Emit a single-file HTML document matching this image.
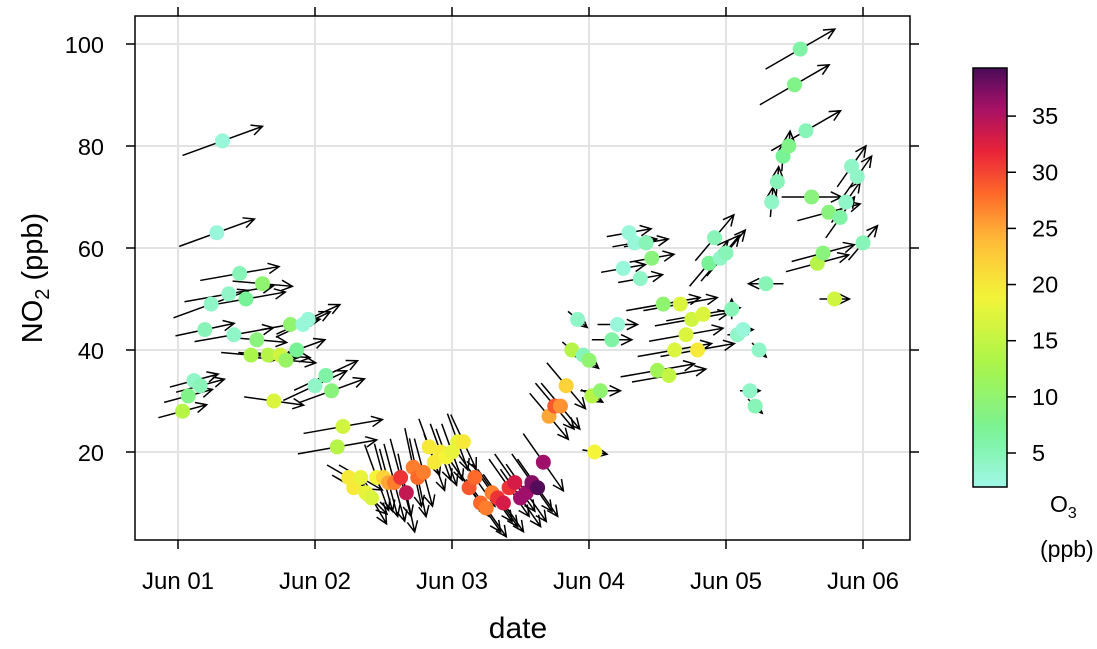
<!DOCTYPE html>
<html><head><meta charset="utf-8"><style>
body{margin:0;background:#fff}
svg text{font-family:"Liberation Sans",sans-serif;fill:#000}
</style></head><body>
<svg id="c" width="1097" height="644" viewBox="0 0 1097 644"></svg>
<script>
// data: hours since Jun 01 00:00, NO2, O3, wind speed, arrow direction (deg on screen)
const hours=[0.8,1.8,2.8,3.9,4.7,5.8,6.8,7.8,8.9,9.8,10.8,11.9,12.8,13.8,14.8,15.8,16.8,17.9,18.9,19.7,20.8,21.9,22.8,24,25.9,26.9,27.9,28.9,
29.9,30.8,32,32.9,33.9,34.8,36,36.9,37.9,39,40,41.2,42,43,44,44.9,46,47,48,49,50,
51,52,53,54,55,56,57,58,59,60,61,62,63,64,65,66,67,68,
69,70,71,72,72.5,73,74,76,77,78,79,80,81,82,83,84,85,86,87,88,89,90,91,92,93,94,95,96,97,98,99,100.2,101.1,101.8,103,
104,105,106,107,108,109,110,111,112,113,114,115,116,117,118,119,120];
const no2=[28,31,34,33,44,49,63,81,51,43,55,50,39,42,53,39,30,39,38,45,40,45,46,33,35,32,21,25,
15,13,15,12,11,15,15,14,14,15,12,17,15,16,21,18,20,19,20,22,22,
13,15,10,9,12,11,10,13,14,11,12,14,13,18,27,29,29,33,
40,46,39,38,31,20,32,42,45,56,63,61,54,61,58,36,49,35,40,49,43,46,40,47,57,62,58,59,48,43,44,32,29,40,53,
69,73,78,80,92,99,83,70,57,59,67,50,66,69,76,74,61];
const o3=[14,8,4,5,5,4,3,3,4,4,5,7,13,9,10,14,17,16,11,10,7,3,3,4,6,9,14,16,
20,20,18,18,17,19,22,25,27,31,34,27,28,27,20,20,20,19,18,18,20,
29,28,28,27,27,31,33,31,33,36,36,37,39,36,25,29,26,22,
14,4,5,10,14,19,10,6,3,3,3,3,4,5,9,12,10,15,17,17,17,16,20,17,7,5,4,5,5,4,3,4,5,4,5,
4,5,7,8,8,6,5,9,14,9,9,16,6,4,4,4,5];
const ws=[5,5,5,5,6,8,8,8.5,9,8,8,8,6,6,6,6,6,6,6,6,6,6,7,7,7,7,8,8,
5,5,5,6,6,7,7,7,8,8,8,8,8,7,6,6,6,6,6,6,6,
7,7,7,7,7,7,7,7,7,7,7,7,7,7,6,6,6,6,
2.5,2.5,2.5,2.5,2.5,2.5,4,4,4,4.5,4.5,4.5,4.5,4.5,4.5,7.5,7.5,7.5,7.5,7.5,7.5,7.5,7.5,7.5,6,6,6,6,2,2,2,2,2,2,3.5,
3,3,3,3,8,8,8,6,6.5,6.5,6.5,3,5,5,5,5,4.5];
const wd=[-15,-15,-15,-15,-12,-20,-20,-20,-10,-10,-10,-10,5,5,5,5,8,5,5,-10,-20,-25,-25,-25,-25,-20,-10,-10,
30,30,30,45,60,70,75,75,75,75,78,78,78,75,70,70,70,70,70,70,65,
55,55,55,55,55,55,55,55,55,55,55,55,55,55,50,50,50,50,
40,40,40,40,30,10,0,0,0,-10,-10,-10,-10,-10,-10,-10,-10,-10,-10,-10,-10,-10,-10,-10,-50,-50,-50,-50,-90,0,0,0,45,45,180,
-85,-85,-85,-85,-30,-30,-30,0,-15,-15,-15,0,-55,-55,-55,-55,-50];
const yTicks=[20,40,60,80,100];
const xTickLabels=["Jun 01","Jun 02","Jun 03","Jun 04","Jun 05","Jun 06"];
const cbTicks=[5,10,15,20,25,30,35];

const NS="http://www.w3.org/2000/svg",svg=document.getElementById('c');
function mk(t,a,p){const e=document.createElementNS(NS,t);for(const k in a)e.setAttribute(k,a[k]);(p||svg).appendChild(e);return e;}
const L=135,R=910,T=16,B=540;
const xs=h=>178+h*137/24, ys=v=>554-5.1*v;
const stops=[[2,[160,248,232]],[7,[120,242,150]],[13,[170,245,74]],[19,[244,244,56]],[24,[255,187,56]],[28,[255,106,42]],[32,[232,32,58]],[36,[160,16,106]],[39.3,[74,12,88]]];
function col(v){if(v<=stops[0][0])return 'rgb('+stops[0][1]+')';for(let i=1;i<stops.length;i++){if(v<=stops[i][0]){const a=stops[i-1],b=stops[i],t=(v-a[0])/(b[0]-a[0]);return 'rgb('+a[1].map((c,j)=>Math.round(c+(b[1][j]-c)*t)).join(',')+')';}}return 'rgb('+stops[stops.length-1][1]+')';}

const grid=mk('g',{});


yTicks.forEach(v=>mk('line',{x1:L,x2:R,y1:ys(v),y2:ys(v),stroke:'#e3e3e3','stroke-width':2},grid));
xTickLabels.forEach((s,i)=>mk('line',{x1:xs(i*24),x2:xs(i*24),y1:T,y2:B,stroke:'#e3e3e3','stroke-width':2},grid));

const ag=mk('g',{stroke:'#000','stroke-width':1.5,fill:'none'});


hours.forEach((h,i)=>{
 const cx=xs(h),cy=ys(no2[i]),len=ws[i]*10,a=wd[i]*Math.PI/180;
 const dx=Math.cos(a)*len/2,dy=Math.sin(a)*len/2;
 const x2=cx+dx,y2=cy+dy;
 const hl=12,ha=0.45;
 const p=`M${cx-dx},${cy-dy}L${x2},${y2}M${x2-hl*Math.cos(a-ha)},${y2-hl*Math.sin(a-ha)}L${x2},${y2}L${x2-hl*Math.cos(a+ha)},${y2-hl*Math.sin(a+ha)}`;
 const e=mk('path',{d:p},ag);
 
 
});
const pg=mk('g',{});


hours.forEach((h,i)=>{
 const e=mk('circle',{cx:xs(h),cy:ys(no2[i]),r:7.5,fill:col(o3[i])},pg);
 
 
});
const fr=mk('rect',{x:L,y:T,width:R-L,height:B-T,fill:'none',stroke:'#000','stroke-width':1.5});


yTicks.forEach(v=>{
 mk('line',{x1:L-9,x2:L,y1:ys(v),y2:ys(v),stroke:'#000','stroke-width':1.5});
 mk('line',{x1:R,x2:R+9,y1:ys(v),y2:ys(v),stroke:'#000','stroke-width':1.5});
 const t=mk('text',{x:L-31,y:ys(v)+9,'text-anchor':'end','font-size':23.5});t.textContent=v;
 
 
});
xTickLabels.forEach((s,i)=>{
 const x=xs(i*24);
 mk('line',{x1:x,x2:x,y1:B,y2:B+9,stroke:'#000','stroke-width':1.5});
 mk('line',{x1:x,x2:x,y1:T-9,y2:T,stroke:'#000','stroke-width':1.5});
 const t=mk('text',{x:x,y:589,'text-anchor':'middle','font-size':24});t.textContent=s;
 
 
});
const cbT=68,cbB=487,cbv=v=>453-(v-5)*11.23;
const defs=mk('defs',{});const lg=mk('linearGradient',{id:'cb',x1:0,y1:1,x2:0,y2:0},defs);
for(let k=0;k<=20;k++){const v=2+k*(39.3-2)/20;mk('stop',{offset:(cbv(v)-cbB)/(cbT-cbB),'stop-color':col(v)},lg);}
const cb=mk('rect',{x:973,y:cbT,width:34,height:cbB-cbT,fill:'url(#cb)',stroke:'#000','stroke-width':1.5});


cbTicks.forEach(v=>{mk('line',{x1:1007,x2:1016,y1:cbv(v),y2:cbv(v),stroke:'#000','stroke-width':1.5});
 const t=mk('text',{x:1032,y:cbv(v)+8,'font-size':23.5});t.textContent=v;
 
 });
</script>
<svg width="1097" height="644" style="position:absolute;left:0;top:0">
<text x="518" y="638" text-anchor="middle" font-size="30">date</text>
<text transform="translate(42,278) rotate(-90)" text-anchor="middle" font-size="29">NO<tspan font-size="20" dy="7">2</tspan><tspan dy="-7"> (ppb)</tspan></text>
<text x="1050" y="512" font-size="23">O<tspan font-size="16" dy="6">3</tspan></text>
<text x="1040" y="557" font-size="23">(ppb)</text>
</svg>
</body></html>
